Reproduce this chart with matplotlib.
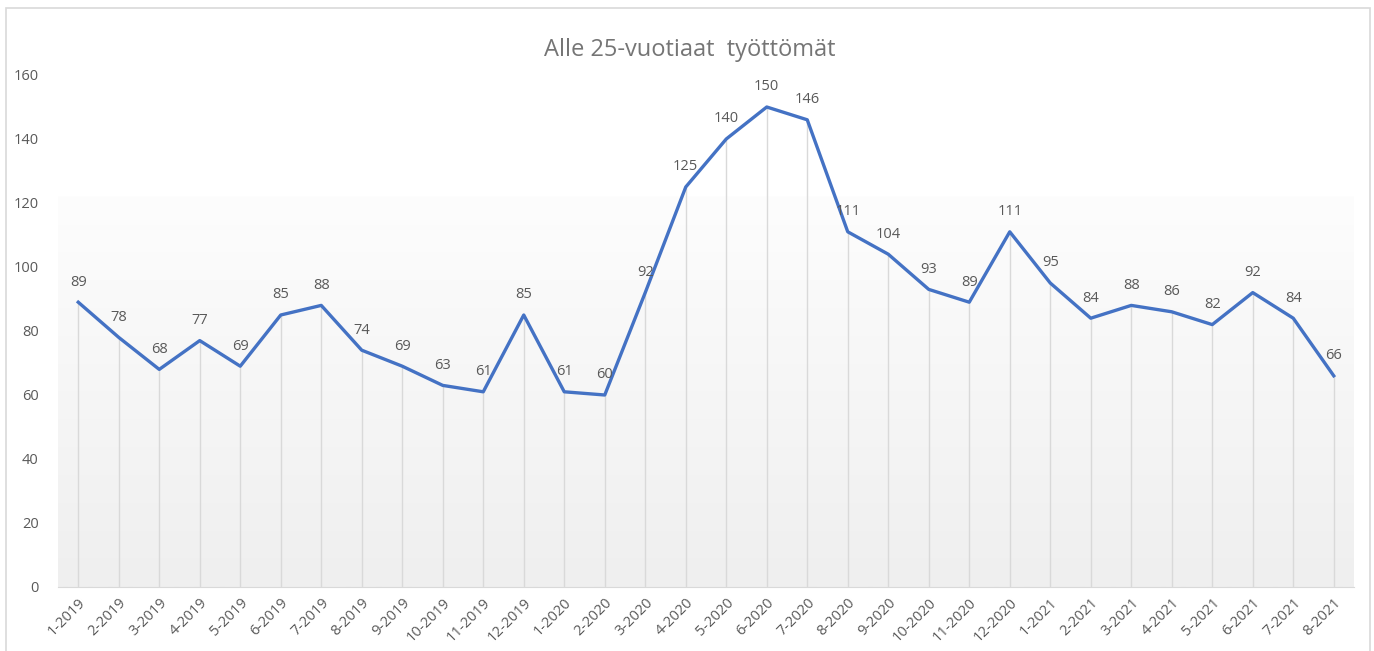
import numpy as np
import matplotlib.pyplot as plt
from matplotlib.patches import Rectangle
from matplotlib.colors import LinearSegmentedColormap

plt.rcParams['font.family'] = ['Open Sans', 'DejaVu Sans']

months = ['1-2019', '2-2019', '3-2019', '4-2019', '5-2019', '6-2019', '7-2019', '8-2019',
          '9-2019', '10-2019', '11-2019', '12-2019', '1-2020', '2-2020', '3-2020', '4-2020',
          '5-2020', '6-2020', '7-2020', '8-2020', '9-2020', '10-2020', '11-2020', '12-2020',
          '1-2021', '2-2021', '3-2021', '4-2021', '5-2021', '6-2021', '7-2021', '8-2021']
values = [89, 78, 68, 77, 69, 85, 88, 74, 69, 63, 61, 85, 61, 60, 92, 125,
          140, 150, 146, 111, 104, 93, 89, 111, 95, 84, 88, 86, 82, 92, 84, 66]

gray = '#595959'
fig = plt.figure(figsize=(13.74, 6.51), dpi=100)
fig.patches.append(Rectangle((6 / 1374, -0.05), 1364 / 1374, 1 - 8 / 651 + 0.05,
                             transform=fig.transFigure, fill=False,
                             edgecolor='#d9d9d9', linewidth=1.2))
ax = fig.add_axes([58 / 1374, 1 - 587 / 651, 1296 / 1374, 512 / 651])

x = np.arange(len(values))
ax.set_xlim(-0.5, len(values) - 0.5)
ax.set_ylim(0, 160)

# background gradient, near white at top to light gray at bottom
cmap = LinearSegmentedColormap.from_list('g', ['#efefef', '#fdfdfd'])
grad = np.linspace(1.0, 0.0, 256).reshape(-1, 1)
ax.imshow(grad, extent=(-0.5, len(values) - 0.5, 0, 122), aspect='auto',
          cmap=cmap, origin='upper', zorder=0)

ax.vlines(x, 0, values, color='#d9d9d9', linewidth=1, zorder=1)
ax.plot(x, values, color='#4472C4', linewidth=2.4, zorder=3)
for xi, v in zip(x, values):
    ax.annotate(str(v), (xi, v), xytext=(0, 9), textcoords='offset points',
                ha='center', va='bottom', fontsize=10.5, color=gray)

for s in ['top', 'right', 'left']:
    ax.spines[s].set_visible(False)
ax.spines['bottom'].set_color('#d9d9d9')
ax.set_yticks(range(0, 161, 20))
ax.set_xticks(x)
ax.set_xticklabels(months, rotation=45, ha='right', rotation_mode='anchor')
ax.tick_params(axis='both', length=0, colors=gray, labelsize=10.5)
ax.tick_params(axis='y', pad=14)
ax.tick_params(axis='x', pad=6)

fig.text(0.502, 1 - 50 / 651, 'Alle 25-vuotiaat  työttömät', ha='center', va='center',
         fontsize=17, color='#757575')

fig.savefig('out.png', dpi=100)
